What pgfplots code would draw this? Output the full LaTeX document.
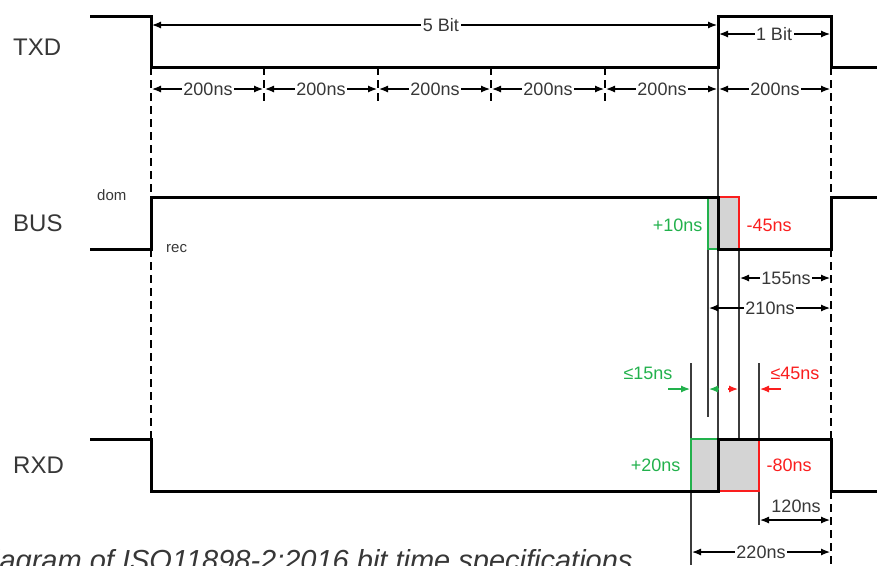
\documentclass[border=0pt]{standalone}
\usepackage{pgfplots}
\pgfplotsset{compat=1.18}
\usepackage{fontspec}
\setmainfont{Liberation Sans}
\usetikzlibrary{arrows.meta}
\definecolor{sgreen}{RGB}{34,177,76}
\definecolor{sred}{RGB}{250,30,30}
\definecolor{sgrey}{RGB}{212,212,212}
\definecolor{txt}{RGB}{55,55,55}
\definecolor{thingrey}{RGB}{60,60,60}
\begin{document}
\begin{tikzpicture}[
  dim/.style={line width=1.2pt, black, {Latex[length=9pt,width=7pt]}-{Latex[length=9pt,width=7pt]}},
  lab/.style={font=\fontsize{18}{20}\selectfont, text=txt, fill=white, inner sep=1.5pt},
  sig/.style={font=\fontsize{24}{26}\selectfont, text=txt, anchor=west, inner sep=0pt},
  dsh/.style={line width=1.8pt, black, dash pattern=on 8pt off 5pt},
  thn/.style={line width=1.3pt, thingrey}
]
\begin{axis}[scale only axis, width=877pt, height=565pt,
  xmin=0, xmax=877, ymin=0, ymax=565, y dir=reverse,
  axis lines=none, clip=false]
\coordinate (bbA) at (axis cs:0,0);
\coordinate (bbB) at (axis cs:877,565);
% grey fills
\addplot[fill=sgrey, draw=none] coordinates {(708,197)(739,197)(739,249)(708,249)};
\addplot[fill=sgrey, draw=none] coordinates {(691,439)(759,439)(759,491)(691,491)};
% thin vertical reference lines
\addplot[thn] coordinates {(718,16)(718,439)};
\addplot[thn] coordinates {(708,249)(708,417)};
\addplot[thn] coordinates {(739,249)(739,439)};
\addplot[thn] coordinates {(691,363)(691,565)};
\addplot[thn] coordinates {(759,363)(759,525)};
% dashed lines
\addplot[dsh] coordinates {(151,67)(151,197)};
\addplot[dsh] coordinates {(151,249)(151,439)};
\addplot[dsh] coordinates {(831,67)(831,197)};
\addplot[dsh] coordinates {(831,249)(831,439)};
\addplot[dsh] coordinates {(831,491)(831,565)};
\addplot[dsh] coordinates {(264,67)(264,103)};
\addplot[dsh] coordinates {(378,67)(378,103)};
\addplot[dsh] coordinates {(491,67)(491,103)};
\addplot[dsh] coordinates {(605,67)(605,103)};
% green / red tolerance edges
\addplot[sgreen, line width=2pt] coordinates {(708,197)(708,249)(718,249)};
\addplot[sred, line width=2pt] coordinates {(718,197)(739,197)(739,249)};
\addplot[sgreen, line width=2pt] coordinates {(691,491)(691,439)(718,439)};
\addplot[sred, line width=2pt] coordinates {(718,491)(759,491)(759,439)};
% waveforms
\addplot[black, line width=3pt, line join=miter] coordinates {(90,16)(151,16)(151,67)(718,67)(718,16)(831,16)(831,67)(877,67)};
\addplot[black, line width=3pt, line join=miter] coordinates {(90,249)(151,249)(151,197)(718,197)(718,249)(831,249)(831,197)(877,197)};
\addplot[black, line width=3pt, line join=miter] coordinates {(90,439)(151,439)(151,491)(718,491)(718,439)(831,439)(831,491)(877,491)};
% dimension arrows
\draw[dim] (axis cs:152,25) -- (axis cs:717,25);
\node[lab] at (axis cs:441,25) {5 Bit};
\draw[dim] (axis cs:719,34) -- (axis cs:830,34);
\node[lab] at (axis cs:774,34) {1 Bit};
\draw[dim] (axis cs:152,89) -- (axis cs:263,89);
\draw[dim] (axis cs:265,89) -- (axis cs:377,89);
\draw[dim] (axis cs:379,89) -- (axis cs:490,89);
\draw[dim] (axis cs:492,89) -- (axis cs:604,89);
\draw[dim] (axis cs:606,89) -- (axis cs:717,89);
\draw[dim] (axis cs:719,89) -- (axis cs:830,89);
\node[lab] at (axis cs:208,89) {200ns};
\node[lab] at (axis cs:321,89) {200ns};
\node[lab] at (axis cs:435,89) {200ns};
\node[lab] at (axis cs:548,89) {200ns};
\node[lab] at (axis cs:662,89) {200ns};
\node[lab] at (axis cs:775,89) {200ns};
\draw[dim] (axis cs:740,278) -- (axis cs:830,278);
\node[lab] at (axis cs:786,278) {155ns};
\draw[dim] (axis cs:709,308) -- (axis cs:830,308);
\node[lab] at (axis cs:770,308) {210ns};
\draw[dim] (axis cs:760,520) -- (axis cs:830,520);
\node[lab, fill=none] at (axis cs:796,506) {120ns};
\draw[dim] (axis cs:692,552) -- (axis cs:830,552);
\node[lab] at (axis cs:761,552) {220ns};
% small arrows
\draw[line width=1.2pt, sgreen, -{Latex[length=9pt,width=7pt]}] (axis cs:668,389) -- (axis cs:690,389);
\draw[line width=1.2pt, sgreen, -{Latex[length=9pt,width=7pt]}] (axis cs:719,389) -- (axis cs:709,389);
\draw[line width=1.2pt, sred, -{Latex[length=9pt,width=7pt]}] (axis cs:728,389) -- (axis cs:738,389);
\draw[line width=1.2pt, sred, -{Latex[length=9pt,width=7pt]}] (axis cs:781,389) -- (axis cs:760,389);
% coloured labels
\node[lab, fill=none, text=sgreen] at (axis cs:648,373) {≤15ns};
\node[lab, fill=none, text=sred] at (axis cs:795,373) {≤45ns};
\node[lab, fill=none, text=sgreen, anchor=east] at (axis cs:704,225) {+10ns};
\node[lab, fill=none, text=sred, anchor=west] at (axis cs:745,225) {-45ns};
\node[lab, fill=none, text=sgreen, anchor=east] at (axis cs:682,465) {+20ns};
\node[lab, fill=none, text=sred, anchor=west] at (axis cs:765,465) {-80ns};
% signal names
\node[sig] at (axis cs:13,47) {TXD};
\node[sig] at (axis cs:13,223) {BUS};
\node[sig] at (axis cs:13,465) {RXD};
\node[font=\fontsize{15}{17}\selectfont, text=txt, anchor=west, inner sep=0pt] at (axis cs:97,195) {dom};
\node[font=\fontsize{15}{17}\selectfont, text=txt, anchor=west, inner sep=0pt] at (axis cs:166,249) {rec};
% caption (cut by the page edge, as in the reference)
\node[font=\itshape\fontsize{29}{31}\selectfont, text=txt, anchor=base west, inner sep=0pt] at (axis cs:-28,570) {Diagram of ISO11898-2:2016 bit time specifications};
\end{axis}
\pgfresetboundingbox
\useasboundingbox (bbA) rectangle (bbB);
\end{tikzpicture}
\end{document}
